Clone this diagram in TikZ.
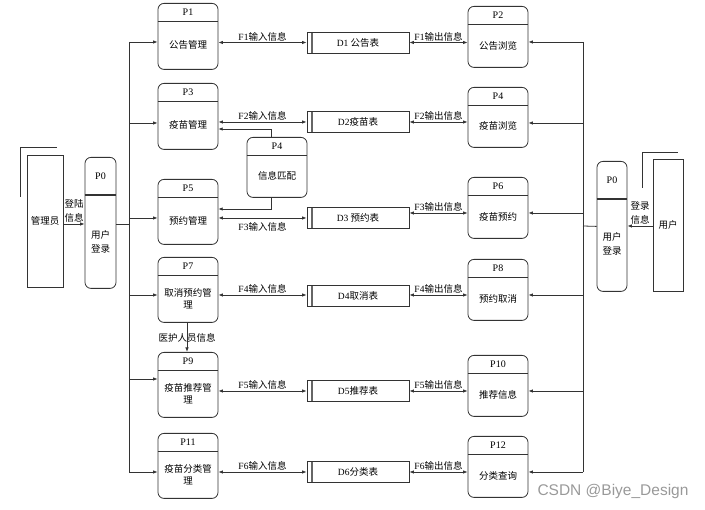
\documentclass[tikz,border=0pt]{standalone}
\usepackage{fontspec}
\setmainfont{Noto Sans CJK SC}
\newfontfamily\lat{Liberation Serif}
\newfontfamily\wmfont{Liberation Sans}
\usetikzlibrary{arrows.meta}
\tikzset{
    wire/.style={draw=black!80, line width=0.8pt},
    arr/.style={wire, -{Latex[length=4.5pt,width=3.5pt]}},
    dbl/.style={wire, {Latex[length=4.5pt,width=3.5pt]}-{Latex[length=4.5pt,width=3.5pt]}},
    procbox/.style={wire, rounded corners=6pt, minimum width=60pt, anchor=north, inner sep=0pt},
    procbody/.style={minimum width=60pt, inner sep=0pt, align=center},
    ptitle/.style={font=\lat\fontsize{10}{12}\selectfont},
    store/.style={wire, minimum width=102pt, minimum height=21pt, inner sep=0pt,
        path picture={\draw[black!60, line width=1.6pt] ([xshift=5pt]path picture bounding box.north west) -- ([xshift=5pt]path picture bounding box.south west);}},
    entity/.style={wire, minimum width=36pt, inner sep=0pt},
    flowlbl/.style={midway, above, inner sep=1pt},
    twoline/.style={align=center, font=\fontsize{9.5}{14}\selectfont}
}
\def\Proc#1#2#3#4#5#6{
    \node[procbox, minimum height=#4pt] (#1) at (#2,#3) {};
    \draw[wire] ([yshift=-18pt]#1.north west) -- ([yshift=-18pt]#1.north east);
    \node[ptitle] at ([yshift=-9pt]#1.north) {#5};
    \node[procbody, minimum height=#4pt-18pt] (#1b) at ([yshift=-#4pt/2-9pt]#1.north) {#6};
}
\begin{document}
\begin{tikzpicture}[x=1pt, y=-1pt, font=\fontsize{9.5}{12}\selectfont]
    \useasboundingbox (0,0) rectangle (705,510);
    \Proc{p1}{188}{3}{66}{P1}{公告管理}
    \Proc{p3}{188}{83}{66}{P3}{疫苗管理}
    \Proc{p5}{188}{179}{65}{P5}{预约管理}
    \Proc{p7}{188}{257}{65}{P7}{取消预约管\\理}
    \Proc{p9}{188}{352}{65}{P9}{疫苗推荐管\\理}
    \Proc{p11}{188}{433}{65}{P11}{疫苗分类管\\理}
    \Proc{p2}{498}{6}{61}{P2}{公告浏览}
    \Proc{p4}{498}{87}{60}{P4}{疫苗浏览}
    \Proc{p6}{498}{177}{61}{P6}{疫苗预约}
    \Proc{p8}{498}{259}{61}{P8}{预约取消}
    \Proc{p10}{498}{355}{61}{P10}{推荐信息}
    \Proc{p12}{498}{436}{61}{P12}{分类查询}
    \Proc{match}{277}{137}{60}{P4}{信息匹配}

    \node[store] (d1) at (358,42.5) {{\lat D1} 公告表};
    \node[store] (d2) at (358,122) {{\lat D2}疫苗表};
    \node[store] (d3) at (358,218) {{\lat D3} 预约表};
    \node[store] (d4) at (358,296) {{\lat D4}取消表};
    \node[store] (d5) at (358,391) {{\lat D5}推荐表};
    \node[store] (d6) at (358,472) {{\lat D6}分类表};

    \node[entity, minimum height=132pt] (admin) at (45,221) {管理员};
    \draw[wire] ([shift={(-6pt,-42pt)}]admin.north west) -- ([shift={(-6pt,7pt)}]admin.north west) -- ([shift={(-6pt,7pt)}]admin.north east);
    \node[procbox, minimum width=31pt, minimum height=131pt] (lgL) at (100.5,157) {};
    \draw[wire, line width=1.5pt] ([yshift=-38pt]lgL.north west) -- ([yshift=-38pt]lgL.north east);
    \node[ptitle] at ([yshift=-19pt]lgL.north) {P0};
    \node[twoline] (lgLb) at ([yshift=-85pt]lgL.north) {用户\\登录};

    \node[entity, minimum width=30pt, minimum height=132pt] (user) at (668,225) {用户};
    \draw[wire] ([shift={(-10pt,-29pt)}]user.north west) -- ([shift={(-10pt,6pt)}]user.north west) -- ([shift={(-5pt,6pt)}]user.north east);
    \node[procbox, minimum width=30pt, minimum height=130pt] (lgR) at (612,161) {};
    \draw[wire, line width=1.5pt] ([yshift=-38pt]lgR.north west) -- ([yshift=-38pt]lgR.north east);
    \node[ptitle] at ([yshift=-19pt]lgR.north) {P0};
    \node[twoline] (lgRb) at ([yshift=-83pt]lgR.north) {用户\\登录};

    \draw[arr] ([yshift=-3pt]admin.east) -- ([yshift=-3pt]admin.east -| lgL.west) node[flowlbl, twoline] {登陆\\信息};
    \draw[arr] ([yshift=-1pt]user.west) -- ([yshift=-1pt]user.west -| lgR.east) node[flowlbl, twoline] {登录\\信息};

    \coordinate (bl1) at (129,42);
    \coordinate (bl3) at (129,123);
    \coordinate (bl5) at (129,218);
    \coordinate (bl0) at (129,224);
    \coordinate (bl7) at (129,295);
    \coordinate (bl9) at (129,379);
    \coordinate (bl11) at (129,472);
    \draw[wire] (bl1) -- (bl11);
    \draw[wire] (bl0 -| lgL.east) -- (bl0);
    \draw[arr] (bl1) -- (bl1 -| p1.west);
    \draw[arr] (bl3) -- (bl3 -| p3.west);
    \draw[arr] (bl5) -- (bl5 -| p5.west);
    \draw[arr] (bl7) -- (bl7 -| p7.west);
    \draw[arr] (bl9) -- (bl9 -| p9.west);
    \draw[arr] (bl11) -- (bl11 -| p11.west);

    \coordinate (br2) at (583,42);
    \coordinate (br4) at (583,123);
    \coordinate (br6) at (583,213);
    \coordinate (br0) at (583,226);
    \coordinate (br8) at (583,295);
    \coordinate (br10) at (583,391);
    \coordinate (br12) at (583,472);
    \draw[wire] (br2) -- (br12);
    \draw[wire] (lgR.west) -- (br0);
    \draw[arr] (br2) -- (br2 -| p2.east);
    \draw[arr] (br4) -- (br4 -| p4.east);
    \draw[arr] (br6) -- (br6 -| p6.east);
    \draw[arr] (br8) -- (br8 -| p8.east);
    \draw[arr] (br10) -- (br10 -| p10.east);
    \draw[arr] (br12) -- (br12 -| p12.east);

    \draw[dbl] (d1.west -| p1.east) -- (d1.west) node[flowlbl] {{\lat F1}输入信息};
    \draw[dbl] (d2.west -| p3.east) -- (d2.west) node[flowlbl] {{\lat F2}输入信息};
    \draw[dbl] (d3.west -| p5.east) -- (d3.west) node[midway, below, inner sep=4pt] {{\lat F3}输入信息};
    \draw[dbl] ([yshift=1pt]d4.west -| p7.east) -- ([yshift=1pt]d4.west) node[flowlbl] {{\lat F4}输入信息};
    \draw[dbl] (d5.west -| p9.east) -- (d5.west) node[flowlbl] {{\lat F5}输入信息};
    \draw[dbl] (d6.west -| p11.east) -- (d6.west) node[flowlbl] {{\lat F6}输入信息};
    \draw[dbl] (d1.east) -- (d1.east -| p2.west) node[flowlbl] {{\lat F1}输出信息};
    \draw[dbl] (d2.east) -- (d2.east -| p4.west) node[flowlbl] {{\lat F2}输出信息};
    \draw[dbl] ([yshift=5pt]d3.east) -- ([yshift=5pt]d3.east -| p6.west) node[flowlbl] {{\lat F3}输出信息};
    \draw[dbl] ([yshift=1pt]d4.east) -- ([yshift=1pt]d4.east -| p8.west) node[flowlbl] {{\lat F4}输出信息};
    \draw[dbl] (d5.east) -- (d5.east -| p10.west) node[flowlbl] {{\lat F5}输出信息};
    \draw[dbl] (d6.east) -- (d6.east -| p12.west) node[flowlbl] {{\lat F6}输出信息};

    \draw[arr] ([xshift=-6pt]match.north) |- ([yshift=-4pt]p3b.east);
    \draw[arr] ([xshift=-6pt]match.south) |- ([yshift=11.5pt]p5b.east);
    \draw[arr] ([xshift=-1pt]p7.south) -- ([xshift=-1pt]p9.north) node[midway] {医护人员信息};

    \node[text=black!40, font=\wmfont\fontsize{15.5}{18}\selectfont] (wm) at (613,491) {CSDN @Biye\_Design};
\end{tikzpicture}
\end{document}
